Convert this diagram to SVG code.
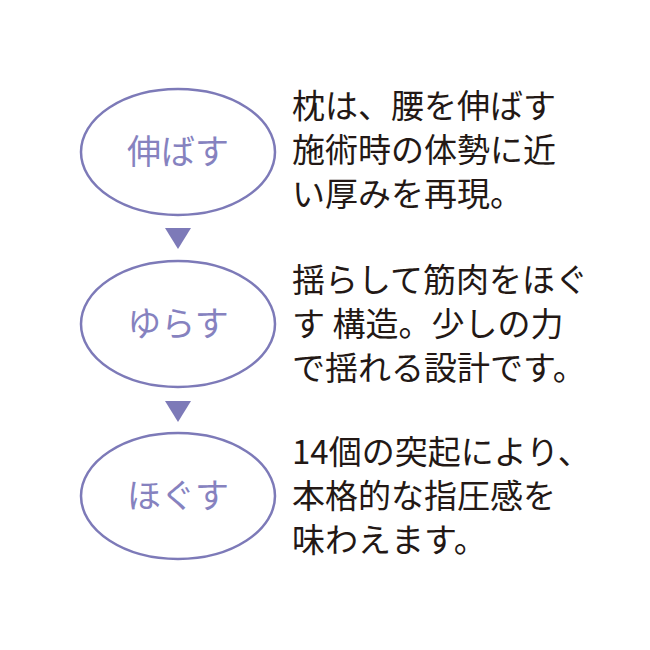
<svg xmlns="http://www.w3.org/2000/svg" width="650" height="650" viewBox="0 0 650 650">
<style>
.e{fill:#fff;stroke:#7d7ab8;stroke-width:2.5}
.l{font-family:"Noto Sans CJK JP",sans-serif;font-size:34px;fill:#8682bf;text-anchor:middle}
.t{font-family:"Noto Sans CJK JP",sans-serif;font-size:33px;fill:#231815}
.a{fill:#7d7ab8}
</style>
<rect width="650" height="650" fill="#fff"/>
<g id="n1"><ellipse class="e" cx="178" cy="152" rx="97" ry="63"/><text class="l" x="178" y="164">伸ばす</text></g>
<g id="n2"><ellipse class="e" cx="178" cy="324" rx="97" ry="63"/><text class="l" x="178" y="336">ゆらす</text></g>
<g id="n3"><ellipse class="e" cx="178" cy="496" rx="97" ry="63"/><text class="l" x="178" y="508">ほぐす</text></g>
<g id="connectors">
<polygon class="a" points="165,228 191,228 178,249"/>
<polygon class="a" points="165,401 191,401 178,422"/>
</g>
<g id="d1"><text class="t" x="292" y="118">枕は、腰を伸ばす</text><text class="t" x="292" y="162">施術時の体勢に近</text><text class="t" x="292" y="206">い厚みを再現。</text></g>
<g id="d2"><text class="t" x="292" y="292">揺らして筋肉をほぐ</text><text class="t" x="292" y="336">す 構造。少しの力</text><text class="t" x="292" y="380">で揺れる設計です。</text></g>
<g id="d3"><text class="t" x="292" y="464">14個の突起により、</text><text class="t" x="292" y="508">本格的な指圧感を</text><text class="t" x="292" y="552">味わえます。</text></g>
</svg>
